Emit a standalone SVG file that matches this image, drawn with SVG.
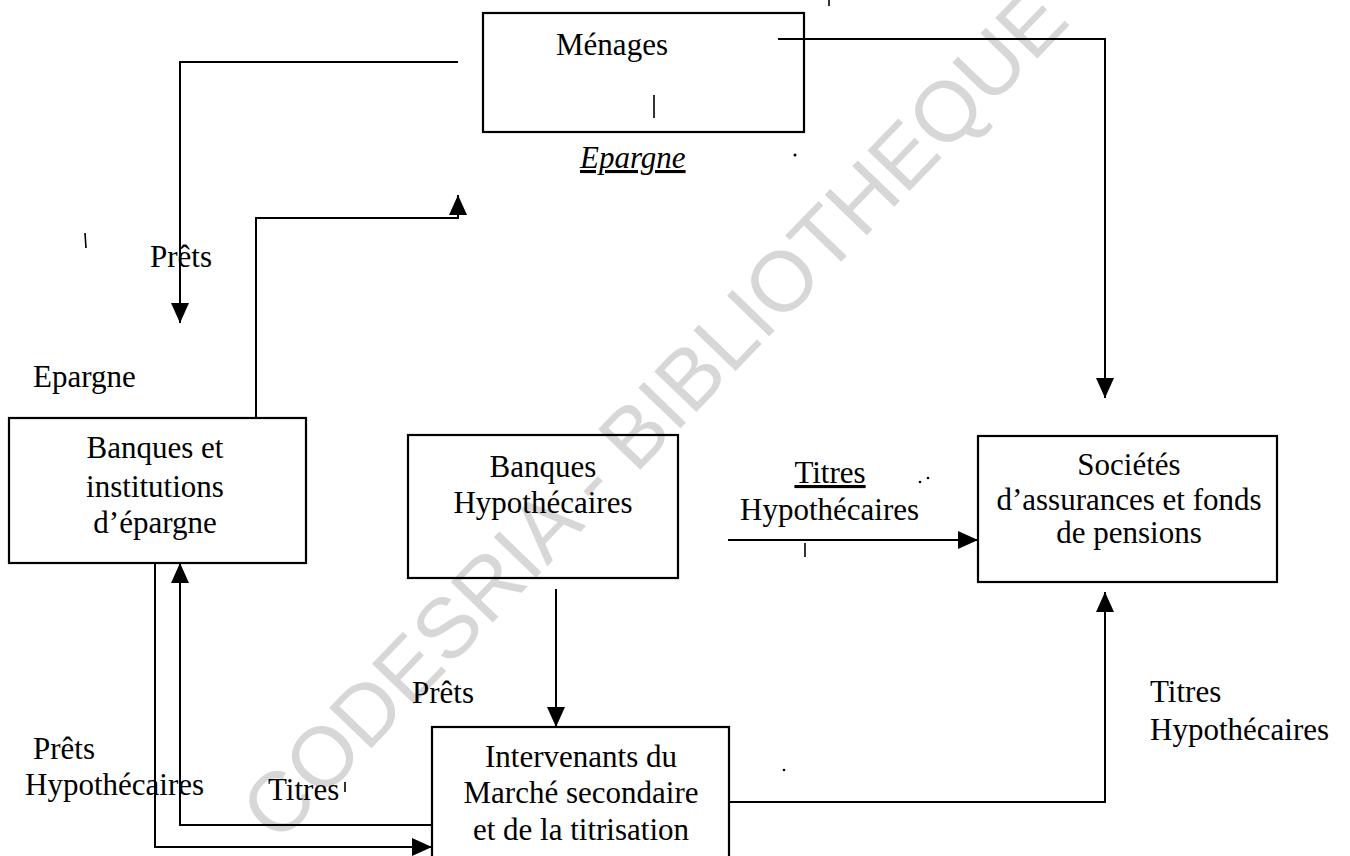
<svg xmlns="http://www.w3.org/2000/svg" width="1350" height="856" viewBox="0 0 1350 856">
<style>
.box{fill:none;stroke:#000;stroke-width:2.2}
.t{font-family:"Liberation Serif","Times New Roman",serif;font-size:31px;fill:#000}
.m{text-anchor:middle}
.c{fill:none;stroke:#000;stroke-width:2}
.k{stroke:#000;stroke-width:1.6}
.wm{font-family:"Liberation Sans",Arial,sans-serif;font-size:85px;fill:#d7d7d7}
</style>
<defs>
<marker id="ah" viewBox="0 0 20 18" markerWidth="20" markerHeight="18" refX="20" refY="9" orient="auto" markerUnits="userSpaceOnUse">
<path d="M0,0 L20,9 L0,18 z" fill="#000"/>
</marker>
</defs>
<text class="wm" transform="translate(278,845) rotate(-46)">CODESRIA - BIBLIOTHEQUE</text>

<g id="connectors">
<path class="c" d="M458,62 H180 V323" marker-end="url(#ah)"/>
<path class="c" d="M256,418 V218 H458 V195" marker-end="url(#ah)"/>
<path class="c" d="M778,39 H1105 V398" marker-end="url(#ah)"/>
<path class="c" d="M728,540 H978" marker-end="url(#ah)"/>
<path class="c" d="M556,589 V727" marker-end="url(#ah)"/>
<path class="c" d="M730,802 H1105 V592" marker-end="url(#ah)"/>
<path class="c" d="M155,563 V847 H432" marker-end="url(#ah)"/>
<path class="c" d="M432,825 H180 V563" marker-end="url(#ah)"/>
</g>

<g id="menages">
<rect class="box" x="483" y="13" width="321" height="119"/>
<text class="t m" x="612" y="55">Ménages</text>
<line class="k" x1="654" y1="95" x2="654" y2="118"/>
</g>
<g id="banques-epargne">
<rect class="box" x="9" y="418" width="297" height="145"/>
<text class="t m" x="155" y="458">Banques et</text>
<text class="t m" x="155" y="497">institutions</text>
<text class="t m" x="155" y="533">d’épargne</text>
</g>
<g id="banques-hypothecaires">
<rect class="box" x="408" y="435" width="270" height="143"/>
<text class="t m" x="543" y="477">Banques</text>
<text class="t m" x="543" y="513">Hypothécaires</text>
</g>
<g id="societes">
<rect class="box" x="978" y="436" width="299" height="146"/>
<text class="t m" x="1129" y="475">Sociétés</text>
<text class="t m" x="1129" y="510">d’assurances et fonds</text>
<text class="t m" x="1129" y="543">de pensions</text>
</g>
<g id="intervenants">
<rect class="box" x="432" y="727" width="297" height="140"/>
<text class="t m" x="581" y="767">Intervenants du</text>
<text class="t m" x="581" y="803">Marché secondaire</text>
<text class="t m" x="581" y="840">et de la titrisation</text>
</g>

<g id="labels">
<text class="t" x="580" y="168" font-style="italic" text-decoration="underline">Epargne</text>
<text class="t" x="150" y="267">Prêts</text>
<text class="t" x="33" y="387">Epargne</text>
<text class="t m" x="830" y="483" text-decoration="underline">Titres</text>
<text class="t" x="740" y="520">Hypothécaires</text>
<line class="k" x1="805" y1="543" x2="805" y2="557"/>
<text class="t" x="412" y="703">Prêts</text>
<text class="t" x="1150" y="702">Titres</text>
<text class="t" x="1150" y="740">Hypothécaires</text>
<text class="t" x="33" y="759">Prêts</text>
<text class="t" x="25" y="795">Hypothécaires</text>
<text class="t" x="268" y="800">Titres</text>
<line class="k" x1="345" y1="782" x2="345" y2="792"/>
<line class="k" x1="85" y1="233" x2="86" y2="248"/>
<line class="k" x1="829" y1="0" x2="829" y2="6"/>
<circle cx="795" cy="155" r="1.5"/>
<circle cx="920" cy="482" r="1.3"/>
<circle cx="928" cy="478" r="1.3"/>
<circle cx="784" cy="770" r="1.3"/>
</g>
</svg>
